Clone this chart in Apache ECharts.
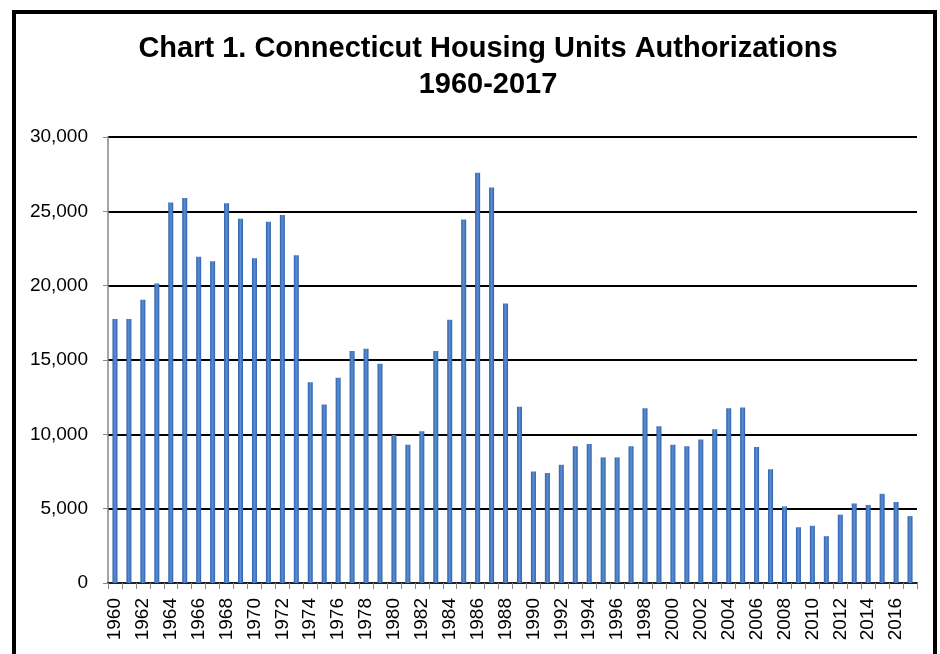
<!DOCTYPE html>
<html>
<head>
<meta charset="utf-8">
<title>Chart 1. Connecticut Housing Units Authorizations</title>
<script src="https://cdn.jsdelivr.net/npm/echarts@6/dist/echarts.min.js"></script>
<style>
    html, body { margin: 0; padding: 0; background: #fff; }
    #main { width: 940px; height: 654px; }
</style>
</head>
<body>
<div id="main"></div>
<script>
// 年份
var years = [];
for (var y = 1960; y <= 2017; y++) years.push(String(y));

// 每年的住房许可数（从图上读出来的估计值）
var units = [
    17750, 17750, 19050, 20150, 25600, 25900, 21950, 21650, 25550, 24500,
    21850, 24300, 24750, 22050, 13500, 12000, 13800, 15600, 15750, 14750,
    9950, 9300, 10200, 15600, 17700, 24450, 27600, 26600, 18800, 11850,
    7500, 7400, 7950, 9200, 9350, 8450, 8450, 9200, 11750, 10550,
    9300, 9200, 9650, 10350, 11750, 11800, 9150, 7650, 5150, 3750,
    3850, 3150, 4600, 5350, 5250, 6000, 5450, 4500
];

var yTicks = [0, 5000, 10000, 15000, 20000, 25000, 30000];

var fontName = 'Arial, "Liberation Sans", sans-serif';

(function() {
    var myChart = echarts.init(document.getElementById('main'));

    var option = {
        backgroundColor: '#fff',
        animation: false,
        title: {
            text: 'Chart 1. Connecticut Housing Units Authorizations\n1960-2017',
            // textAlign center 时 left 是文字中心
            left: 488,
            top: 31,
            padding: 0,
            textAlign: 'center',
            textStyle: {
                fontFamily: fontName,
                fontSize: 29,
                fontWeight: 'bold',
                color: '#000',
                lineHeight: 36
            }
        },
        // 外框
        graphic: [{
            type: 'rect',
            shape: { x: 14, y: 12, width: 921, height: 680 },
            style: { fill: 'none', stroke: '#000', lineWidth: 4 },
            silent: true
        }],
        grid: {
            left: 108,
            right: 23,
            top: 137,
            bottom: 71
        },
        xAxis: {
            type: 'category',
            data: years,
            boundaryGap: true,
            axisLine: { lineStyle: { color: '#222', width: 2 } },
            axisTick: {
                show: true,
                interval: 0,
                length: 6,
                lineStyle: { color: '#888' }
            },
            axisLabel: {
                interval: 1,
                rotate: 90,
                margin: 15,
                fontFamily: fontName,
                fontSize: 19,
                color: '#000'
            },
            splitLine: { show: false }
        },
        yAxis: {
            type: 'value',
            min: yTicks[0],
            max: yTicks[yTicks.length - 1],
            interval: 5000,
            axisLine: { show: true, lineStyle: { color: '#888', width: 1.5 } },
            axisTick: { show: true, length: 5, lineStyle: { color: '#888' } },
            axisLabel: {
                margin: 20,
                fontFamily: fontName,
                fontSize: 19,
                color: '#000',
                formatter: function(v) {
                    return v.toLocaleString('en-US');
                }
            },
            splitLine: { lineStyle: { color: '#000', width: 2 } }
        },
        series: [{
            type: 'bar',
            data: units,
            barWidth: 5,
            itemStyle: {
                color: new echarts.graphic.LinearGradient(0, 0, 1, 0, [
                    { offset: 0, color: '#2f5fa8' },
                    { offset: 0.5, color: '#5a8fd6' },
                    { offset: 1, color: '#2f5fa8' }
                ])
            }
        }]
    };

    myChart.setOption(option);
})();
</script>
</body>
</html>
